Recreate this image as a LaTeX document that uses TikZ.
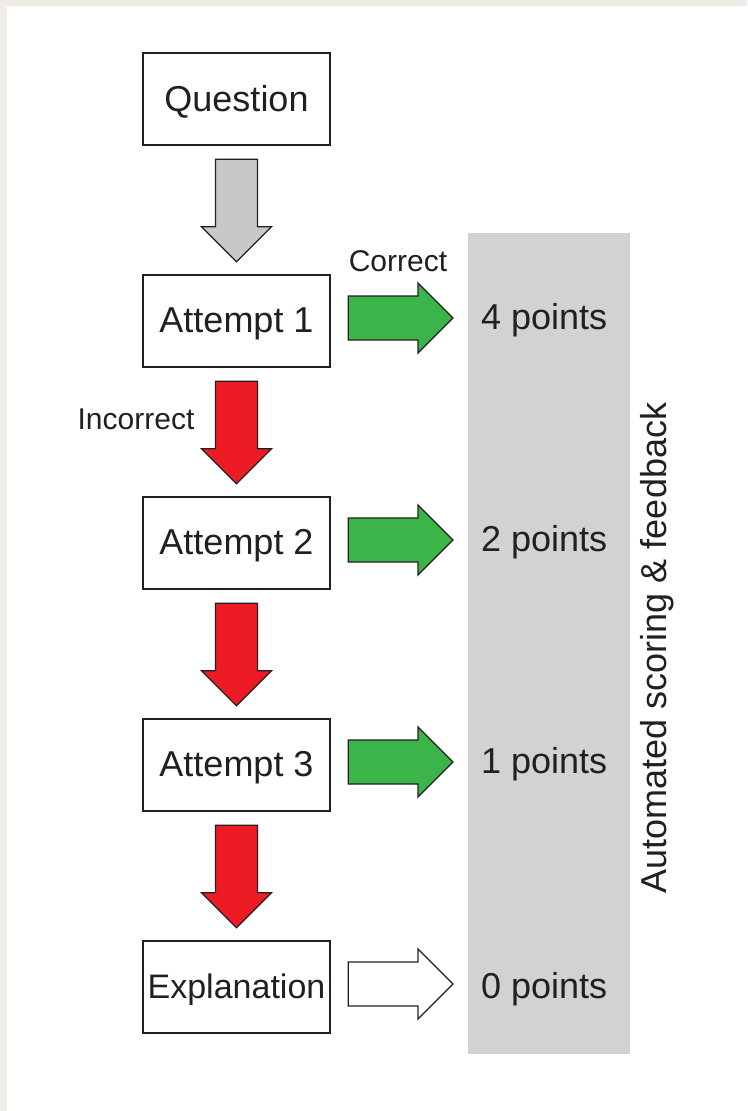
\documentclass[tikz,border=0pt]{standalone}
\usepackage{fontspec}
\setmainfont{Liberation Sans}
\usetikzlibrary{calc}
\definecolor{bgbeige}{HTML}{EFEBE6}
\definecolor{panelgray}{HTML}{D1D2D4}
\definecolor{arrowgray}{HTML}{C7C8CA}
\definecolor{okgreen}{HTML}{3BB54A}
\definecolor{badred}{HTML}{ED1C24}
\definecolor{ink}{HTML}{231F20}
\newcommand\lowtext[1]{\raisebox{-3pt}[\height][\depth]{#1}}
\newcommand\downblock[3]{%
  \filldraw[blockarrow, fill=#3] let \p1=(#1.south), \p2=(#2.north) in
    (\x1-21pt,\y1-13pt) -- (\x1+21pt,\y1-13pt) -- (\x1+21pt,\y2+47pt) --
    (\x1+35pt,\y2+47pt) -- (\x1,\y2+12pt) -- (\x1-35pt,\y2+47pt) --
    (\x1-21pt,\y2+47pt) -- cycle;}
\newcommand\rightblock[3]{%
  \filldraw[blockarrow, fill=#3] let \p1=(#1.east), \p2=(#2.west) in
    (\x1+17pt,\y1+25pt) -- (\x2-63pt,\y1+25pt) -- (\x2-63pt,\y1+38pt) --
    (\x2-28pt,\y1+3pt) -- (\x2-63pt,\y1-32pt) -- (\x2-63pt,\y1-19pt) --
    (\x1+17pt,\y1-19pt) -- cycle;}
\begin{document}
\begin{tikzpicture}[x=1pt,y=-1pt,
  stagebox/.style={draw=ink, line width=2.4pt, fill=white, minimum width=187pt,
    minimum height=92pt, inner sep=0pt, text=ink, font=\fontsize{36}{40}\selectfont},
  blockarrow/.style={draw=ink, line width=1.3pt, line join=miter},
  pts/.style={anchor=west, inner sep=0pt, text=ink, font=\fontsize{36}{40}\selectfont},
  lbl/.style={inner sep=0pt, text=ink, font=\fontsize{30}{34}\selectfont}]
\useasboundingbox (0,0) rectangle (747,1111);
\fill[bgbeige] (0,0) rectangle (747,1111);
\fill[white] (7,6) rectangle (747,1111);
\node[fill=panelgray, minimum width=162pt, minimum height=821pt, inner sep=0pt] (panel) at (549,643.5) {};
\node[rotate=90, text=ink, inner sep=0pt, font=\fontsize{36}{40}\selectfont] (auto) at (657,648) {Automated scoring \& feedback};
\node[stagebox] (q) at (236.5,99) {\lowtext{Question}};
\node[stagebox] (a1) at (236.5,321) {\lowtext{Attempt 1}};
\node[stagebox] (a2) at (236.5,543) {\lowtext{Attempt 2}};
\node[stagebox] (a3) at (236.5,765) {\lowtext{Attempt 3}};
\node[stagebox, font=\fontsize{34}{38}\selectfont] (ex) at (236.5,987) {\lowtext{Explanation}};
\node[pts] (p1) at (481,320) {4 points};
\node[pts] (p2) at (481,542) {2 points};
\node[pts] (p3) at (481,764) {1 points};
\node[pts] (p0) at (481,989) {0 points};
\downblock{q}{a1}{arrowgray}
\downblock{a1}{a2}{badred}
\downblock{a2}{a3}{badred}
\downblock{a3}{ex}{badred}
\rightblock{a1}{p1}{okgreen}
\rightblock{a2}{p2}{okgreen}
\rightblock{a3}{p3}{okgreen}
\rightblock{ex}{p0}{white}
\node[lbl] (correct) at (398,261) {Correct};
\node[lbl] (incorrect) at (136,419) {Incorrect};
\end{tikzpicture}
\end{document}
